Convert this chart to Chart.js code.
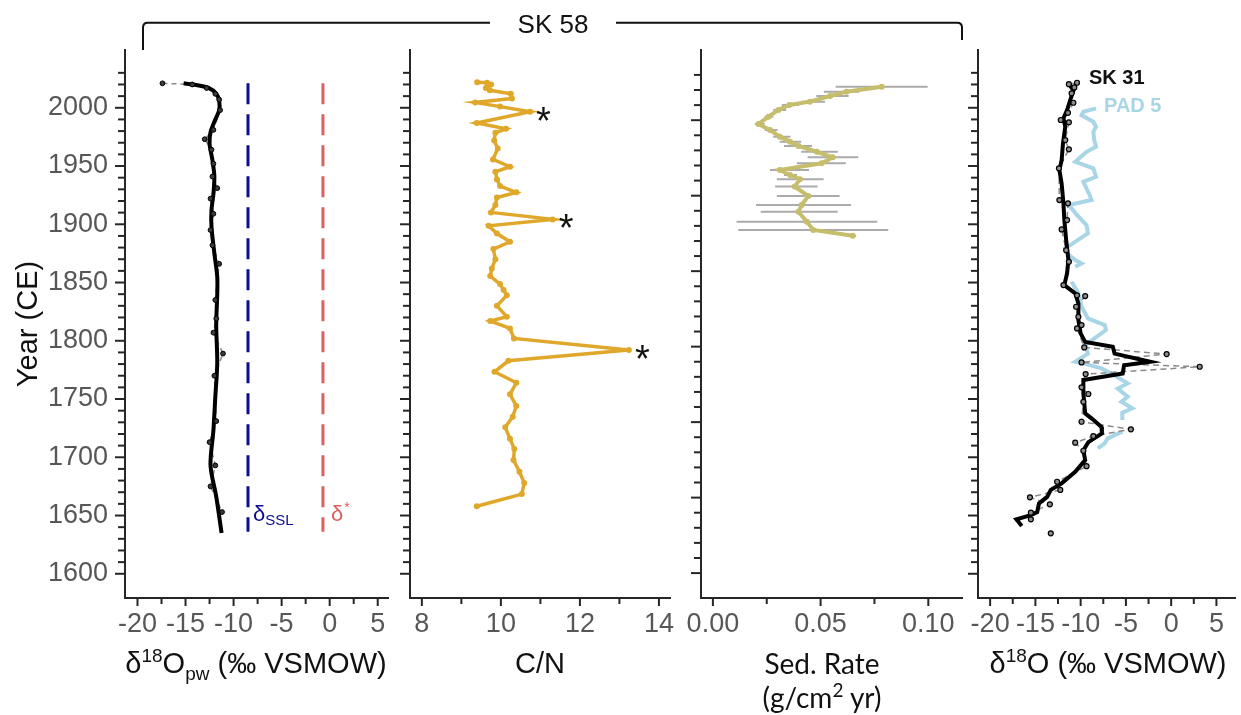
<!DOCTYPE html>
<html>
<head>
<meta charset="utf-8">
<script src="https://cdn.jsdelivr.net/npm/chart.js@4.4.1/dist/chart.umd.min.js"></script>
<style>
  html, body { margin: 0; padding: 0; background: #fff; }
  #fig { position: relative; width: 1241px; height: 715px; overflow: hidden; background: #fff;
         font-family: 'Liberation Sans', Arial, sans-serif; }
  #fig canvas { position: absolute; left: 0; top: 0; }
  .xt { position: absolute; height: 34px; line-height: 34px; font-size: 29px; color: #111;
        text-align: center; white-space: nowrap; }
  .xt .sup { font-size: 19px; position: relative; top: -11px; }
  .xt .sub { font-size: 19px; position: relative; top: 7px; }
  .hum { font-family: Lato, 'Open Sans', sans-serif; font-size: 28px; }
</style>
</head>
<body>
<div id="fig">
  <canvas id="pwPanel" width="1241" height="715"></canvas>
  <canvas id="cnPanel" width="1241" height="715"></canvas>
  <canvas id="srPanel" width="1241" height="715"></canvas>
  <canvas id="o18Panel" width="1241" height="715"></canvas>

  <!-- core bracket grouping the three SK 58 panels -->
  <svg width="1241" height="60" style="position:absolute;left:0;top:0">
    <path d="M143 50 V27.5 Q143 22.7 147.8 22.7 H490 M616 22.7 H957.2 Q962 22.7 962 27.5 V40"
          fill="none" stroke="#111" stroke-width="2"/>
    <text x="553" y="33" text-anchor="middle" font-family="Liberation Sans, Arial, sans-serif"
          font-size="26" fill="#111">SK 58</text>
  </svg>

  <div class="xt" style="left:106px;top:646px;width:300px">δ<span class="sup">18</span>O<span class="sub">pw</span> (‰ VSMOW)</div>
  <div class="xt" style="left:440px;top:646px;width:200px">C/N</div>
  <div class="xt hum" style="left:702px;top:646px;width:240px">Sed. Rate</div>
  <div class="xt hum" style="left:702px;top:680px;width:240px">(g/cm<span class="sup">2</span> yr)</div>
  <div class="xt" style="left:958px;top:646px;width:300px">δ<span class="sup">18</span>O (‰ VSMOW)</div>
</div>

<script>
// ---------------- data ----------------
// year axis
const yearLabels = [1600, 1650, 1700, 1750, 1800, 1850, 1900, 1950, 2000];
const yearTickRange = [1600, 2030];
const sedYearTickRange = [1700, 2030];

// x tick labels
const pwTickLabels = [-20, -15, -10, -5, 0, 5];
const cnTickLabels = [8, 10, 12, 14];
const srTickLabels = [0, 0.05, 0.10];
const o18TickLabels = [-20, -15, -10, -5, 0, 5];

// SK 58 pore-water d18O: measured samples
const pwYears = [2021, 2020, 2017, 2012, 2007, 1998, 1981, 1973, 1964, 1952, 1941, 1931, 1922, 1909,
                 1895, 1882, 1866, 1835, 1819, 1807, 1789, 1770, 1731, 1713, 1693, 1675, 1653];
const pwRaw = [-17.4, -14.3, -12.8, -11.9, -11.5, -11.4, -12.1, -13.0, -12.3, -12.1, -12.2, -11.7, -12.4, -12.1,
               -12.4, -12.2, -11.5, -11.9, -11.8, -12.1, -11.1, -12.0, -11.8, -12.5, -11.9, -12.4, -11.2];
// SK 58 pore-water d18O: smoothed record
const pwSmoothYears = [2021, 2020, 2017, 2012, 2006, 1998, 1988, 1979, 1969, 1955, 1941, 1926, 1912,
                       1898, 1875, 1855, 1840, 1818, 1809, 1781, 1752, 1723, 1693, 1666, 1635];
const pwSmooth = [-15.2, -14.2, -12.6, -11.8, -11.5, -11.5, -12.0, -12.4, -12.5, -12.2, -12.0, -12.1, -12.3,
                  -12.3, -12.0, -11.7, -11.7, -11.8, -11.8, -11.7, -11.9, -12.1, -12.4, -11.8, -11.25];
// reference values
const deltaSSL = -8.5;
const deltaStar = -0.7;
const refYears = [2021, 1636];
const refLabelYear = 1645;

// SK 58 C/N
const cnYears = [2022, 2021.5, 2020, 2017, 2015, 2012, 2008, 2004.6, 2001, 1996.6, 1987, 1982, 1978.5, 1972,
                 1965, 1955.7, 1949.4, 1945, 1938.5, 1932.8, 1927.4, 1923, 1916.5, 1910.2, 1904.2, 1898.7,
                 1892, 1885, 1878.7, 1870, 1862, 1855.5, 1848.7, 1843.5, 1839, 1830, 1820.6, 1817, 1810.6,
                 1802, 1792, 1782.8, 1773.4, 1764, 1754, 1744, 1734.8, 1725.7, 1716, 1707, 1697.6, 1687.6,
                 1678, 1668.4, 1658];
const cnValues = [9.40, 9.65, 9.75, 9.62, 9.72, 10.25, 10.28, 9.35, 9.98, 10.74, 9.39, 10.13, 9.86, 9.83,
                  9.92, 9.80, 10.23, 9.86, 9.90, 9.98, 10.39, 9.90, 9.86, 9.75, 11.31, 9.69,
                  9.90, 10.23, 9.81, 9.86, 9.77, 9.73, 9.98, 10.07, 10.15, 9.90, 10.15, 9.73, 10.23,
                  10.33, 13.24, 10.19, 9.84, 10.39, 10.23, 10.39, 10.30, 10.11, 10.23, 10.34, 10.32, 10.47,
                  10.59, 10.53, 9.39];
const cnFlagYears = [1996.6, 1904.2, 1792];

// SK 58 sedimentation rate (g/cm2 yr) with uncertainty range
const srYears = [2022.2, 2018.9, 2016.0, 2012.3, 2010.1, 2006.8, 2002.3, 1997.5, 1993.5, 1989.1, 1985.8, 1982.9,
                 1979.1, 1975.4, 1971.5, 1967.0, 1963.7, 1960.9, 1956.0, 1949.8, 1943.8, 1939.4, 1932.8,
                 1927.3, 1923.5];
const srValues = [0.0784, 0.0620, 0.0544, 0.0450, 0.0355, 0.0304, 0.0258, 0.0211, 0.0265, 0.0311, 0.0358, 0.0397,
                  0.0482, 0.0556, 0.0505, 0.0311, 0.0358, 0.0404, 0.0380, 0.0443, 0.0412, 0.0397, 0.0436,
                  0.0466, 0.0649];
const srLow = [0.0570, 0.0515, 0.0480, 0.0410, 0.0320, 0.0280, 0.0240, 0.0195, 0.0240, 0.0280, 0.0310, 0.0330,
               0.0410, 0.0440, 0.0390, 0.0265, 0.0330, 0.0297, 0.0289, 0.0297, 0.0200, 0.0222, 0.0110,
               0.0118, 0.0635];
const srHigh = [0.0997, 0.0680, 0.0630, 0.0520, 0.0400, 0.0340, 0.0280, 0.0240, 0.0300, 0.0360, 0.0410, 0.0460,
                0.0580, 0.0675, 0.0617, 0.0446, 0.0390, 0.0514, 0.0486, 0.0588, 0.0641, 0.0579, 0.0763,
                0.0814, 0.0665];

// SK 31 d18O: measured samples (null = break in the record)
const sk31Years = [2021.5, 2020.3, 2017.5, 2012.4, 2004.3, 1995.7, 1989.5, 1987.5, 1972.3, 1964.3, 1948, 1920.8,
                   1918, 1903.6, 1895.6, 1877.8, 1867.8, 1847.8, 1839, 1838.4, 1829.2, 1820.6, 1813.5, 1810.6,
                   1794.3, 1788.6, 1781.4, 1777.7, 1771.4, 1760, 1754.3, 1747.6, 1730.5, 1724, 1718.2, 1712.5,
                   1705.6, 1692.4, 1679, 1672, 1665.6, 1659.6, 1652.4, 1646.7, null, 1634.7];
const sk31Raw = [-10.4, -11.3, -10.7, -11.0, -10.8, -11.4, -12.2, -11.3, -11.7, -11.3, -12.4, -12.35,
                 -11.4, -11.5, -12.1, -11.6, -11.3, -11.9, -10.4, -9.5, -10.5, -10.25, -9.9, -10.4,
                 -9.6, -0.5, -9.9, 3.15, -9.45, -9.9, -9.15, -9.7, -9.9, -4.45, -8.6, -10.6,
                 -9.7, -9.35, -12.6, -12.25, -15.6, -13.4, -15.5, -15.5, null, -13.3];
// SK 31 d18O: smoothed record
const sk31SmoothYears = [2020.3, 2015, 2006.6, 1998, 1991, 1983.7, 1969.4, 1955, 1946.5, 1935, 1918, 1903.6,
                         1886.4, 1869.3, 1857.9, 1847.8, 1840.7, 1832, 1817.8, 1806.4, 1799, 1794.8, 1789,
                         1782, 1779, 1772, 1766.3, 1755, 1737.7, 1733.4, 1726, 1720.5, 1713, 1706, 1697.6,
                         1687.6, 1677.6, 1672, 1666, 1660.4, 1653, 1650.4, 1646.7, 1641];
const sk31Smooth = [-11.3, -10.8, -11.15, -11.5, -11.9, -11.7, -11.95, -12.1, -12.35, -12.1, -11.9, -11.8,
                    -11.6, -11.35, -11.5, -11.8, -10.6, -10.25, -10.25, -10.0, -9.5, -6.45, -6.25,
                    -2.3, -5.2, -5.35, -9.7, -9.7, -9.5, -8.8, -7.7, -7.65, -9.15, -9.7, -9.5,
                    -10.6, -12.1, -13.3, -13.7, -14.6, -14.8, -15.5, -17.1, -16.5];

// PAD 5 d18O (null = break in the record)
const pad5Years = [1999.5, 1996.6, 1993.7, 1988, 1983.7, 1979.4, 1972.3, 1966.5, 1962.2, 1953.6, 1948, 1940.8,
                   1936.5, 1925, 1920.8, 1916.5, 1907.9, 1899.3, 1892.2, 1879.3, 1873.6, 1869.3, 1866.4, 1863.5,
                   null, 1850.6, 1840.7, 1829.2, 1819.2, 1813.5, 1809.2, 1796.3, 1789, 1782, 1780.6, 1776.3,
                   1770.6, 1763.4, 1759, 1752, 1747.6, 1742, 1738.2, 1732, null, 1722, 1716.2, 1712, 1707.6];
const pad5Values = [-8.3, -9.7, -9.9, -8.6, -8.3, -8.6, -8.5, -8.3, -9.35, -10.6, -8.6, -8.3,
                    -9.7, -9.0, -8.8, -11.3, -10.4, -9.35, -9.2, -11.7, -11.3, -10.6, -9.9, -10.6,
                    null, -11.0, -10.25, -9.9, -9.2, -7.35, -7.2, -9.5, -9.2, -10.6, -9.7, -7.7,
                    -6.3, -4.8, -5.9, -4.8, -5.5, -4.3, -5.4, -5.4, null, -5.4, -7.0, -7.35, -8.1];

// ---------------- styling ----------------
const FONT = "'Liberation Sans', Arial, sans-serif";
const AXIS_COLOR = '#262626';
const TICK_TEXT = '#575757';
const CN_COLOR = '#E0A82B';
const SR_COLOR = '#C6BE6C';
const ERR_COLOR = '#ABABAB';
const SSL_COLOR = '#0D0D8F';
const STAR_COLOR = '#D8625F';
const PAD_COLOR = '#A8D6E6';
const RAW_LINE = '#8A8A8A';
const TICK_FONT_SIZE = 27;

const CANVAS_W = 1241, CANVAS_H = 715;
const PLOT_TOP = 50, PLOT_BOTTOM = 598, X_AXIS_H = 60;

Chart.defaults.font.family = FONT;

// ---------------- helpers ----------------
const points = (values, years) => values.map((v, i) =>
  (v === null || years[i] === null) ? { x: null, y: null } : { x: v, y: years[i] });

const onList = (list, v) => list.some(l => Math.abs(l - v) < 1e-9);

function valueScale(o) {
  return {
    type: 'linear', position: 'bottom', min: o.min, max: o.max,
    afterBuildTicks(s) {
      const t = [];
      for (let i = 0; ; i++) {
        const v = +(o.from + i * o.step).toFixed(6);
        if (v > o.to + 1e-9) break;
        t.push({ value: v });
      }
      s.ticks = t;
    },
    afterFit(s) {
      s.height = X_AXIS_H;
      s.paddingLeft = s.paddingRight = s.paddingTop = s.paddingBottom = 0;
    },
    grid: { display: false, drawTicks: true, tickLength: 8 },
    border: { display: true, color: AXIS_COLOR, width: 2 },
    ticks: {
      autoSkip: false, maxRotation: 0, padding: 2, color: TICK_TEXT, font: { size: TICK_FONT_SIZE },
      callback: v => onList(o.labels, v) ? o.fmt(v) : ''
    }
  };
}

function yearScale(o) {
  return {
    type: 'linear', position: 'left', min: o.min, max: o.max,
    afterBuildTicks(s) {
      const t = [];
      for (let v = o.range[0]; v <= o.range[1]; v += 10) t.push({ value: v });
      s.ticks = t;
    },
    afterFit(s) {
      s.width = o.width;
      s.paddingLeft = s.paddingRight = s.paddingTop = s.paddingBottom = 0;
    },
    grid: { display: false, drawTicks: true, tickLength: 10 },
    border: { display: true, color: AXIS_COLOR, width: 2 },
    ticks: {
      display: !!o.labels, autoSkip: false, padding: 7, color: TICK_TEXT, font: { size: TICK_FONT_SIZE },
      callback: v => (o.labels && o.labels.includes(v)) ? String(v) : ''
    },
    title: o.title
      ? { display: true, text: o.title, color: '#111', font: { size: 29 }, padding: { top: 12, bottom: 0 } }
      : { display: false }
  };
}

// tick marks: longer marks at labelled positions
function tickMarks(isMajorX, isMajorY) {
  return {
    id: 'tickMarks',
    afterDraw(chart) {
      const { ctx, scales: { x, y } } = chart;
      ctx.save();
      ctx.strokeStyle = AXIS_COLOR;
      ctx.lineWidth = 2;
      x.ticks.forEach(t => {
        const px = x.getPixelForValue(t.value);
        const len = isMajorX(t.value) ? 8 : 6;
        ctx.beginPath(); ctx.moveTo(px, x.top); ctx.lineTo(px, x.top + len); ctx.stroke();
      });
      y.ticks.forEach(t => {
        const py = y.getPixelForValue(t.value);
        const len = isMajorY(t.value) ? 10 : 7;
        ctx.beginPath(); ctx.moveTo(y.right, py); ctx.lineTo(y.right - len, py); ctx.stroke();
      });
      ctx.restore();
    }
  };
}

function panel(id, area, xOpt, yOpt, datasets, extraPlugins) {
  return new Chart(document.getElementById(id), {
    type: 'line',
    data: { datasets },
    options: {
      responsive: false, animation: false, devicePixelRatio: 1, events: [],
      indexAxis: 'y',
      layout: {
        padding: {
          left: area.left - yOpt.width, right: CANVAS_W - area.right,
          top: PLOT_TOP, bottom: CANVAS_H - PLOT_BOTTOM - X_AXIS_H
        }
      },
      plugins: { legend: { display: false }, tooltip: { enabled: false }, title: { display: false } },
      scales: { x: valueScale(xOpt), y: yearScale(yOpt) }
    },
    plugins: [tickMarks(xOpt.major, yOpt.major)].concat(extraPlugins || [])
  });
}

const fifty = v => v % 50 === 0;
const YEAR_MIN = 1579.2, YEAR_MAX = 2049.6;

// ---------------- panel 1: pore-water d18O ----------------
panel('pwPanel', { left: 125, right: 388 },
  { min: -21.3, max: 6.07, from: -20, to: 5, step: 2.5, labels: pwTickLabels, fmt: String,
    major: v => onList(pwTickLabels, v) },
  { min: YEAR_MIN, max: YEAR_MAX, range: yearTickRange, width: 125, labels: yearLabels,
    title: 'Year (CE)', major: fifty },
  [
    { data: points([deltaSSL, deltaSSL], refYears), borderColor: SSL_COLOR, borderWidth: 3,
      borderDash: [21, 10], pointRadius: 0, order: 5 },
    { data: points([deltaStar, deltaStar], refYears), borderColor: STAR_COLOR, borderWidth: 3,
      borderDash: [21, 10], pointRadius: 0, order: 5 },
    { data: points(pwRaw, pwYears), borderColor: RAW_LINE, borderWidth: 1.5, borderDash: [5, 4],
      pointRadius: 0, order: 3 },
    { data: points(pwSmooth, pwSmoothYears), borderColor: '#000', borderWidth: 4, tension: 0.3,
      pointRadius: 0, order: 2 },
    { data: points(pwRaw, pwYears), showLine: false, pointRadius: 2.4, pointBackgroundColor: '#3a3a3a',
      pointBorderColor: '#000', pointBorderWidth: 1, order: 1 }
  ],
  [{
    id: 'refLabels',
    afterDatasetsDraw(chart) {
      const { ctx, scales: { x, y } } = chart;
      const yb = y.getPixelForValue(refLabelYear);
      ctx.save();
      ctx.textAlign = 'left';
      ctx.textBaseline = 'alphabetic';
      let px = x.getPixelForValue(deltaSSL) + 5;
      ctx.fillStyle = SSL_COLOR;
      ctx.font = `22px ${FONT}`;
      ctx.fillText('δ', px, yb);
      let w = ctx.measureText('δ').width;
      ctx.font = `15px ${FONT}`;
      ctx.fillText('SSL', px + w, yb + 4);
      px = x.getPixelForValue(deltaStar) + 8;
      ctx.fillStyle = STAR_COLOR;
      ctx.font = `22px ${FONT}`;
      ctx.fillText('δ', px, yb);
      w = ctx.measureText('δ').width;
      ctx.font = `14px ${FONT}`;
      ctx.fillText('*', px + w + 1, yb - 9);
      ctx.restore();
    }
  }]
);

// ---------------- panel 2: C/N ----------------
panel('cnPanel', { left: 410, right: 670 },
  { min: 7.7, max: 14.28, from: 8, to: 14, step: 1, labels: cnTickLabels, fmt: String,
    major: v => onList(cnTickLabels, v) },
  { min: YEAR_MIN, max: YEAR_MAX, range: yearTickRange, width: 20, major: fifty },
  [
    { data: points(cnValues, cnYears), borderColor: CN_COLOR, borderWidth: 3.5, pointRadius: 3,
      pointBackgroundColor: CN_COLOR, pointBorderColor: CN_COLOR, pointBorderWidth: 0 }
  ],
  [{
    id: 'flags',
    afterDatasetsDraw(chart) {
      const ctx = chart.ctx;
      const meta = chart.getDatasetMeta(0);
      ctx.save();
      ctx.font = `38px ${FONT}`;
      ctx.fillStyle = '#111';
      ctx.textAlign = 'left';
      ctx.textBaseline = 'alphabetic';
      cnFlagYears.forEach(yr => {
        const p = meta.data[cnYears.indexOf(yr)];
        ctx.fillText('*', p.x + 6, p.y + 22);
      });
      ctx.restore();
    }
  }]
);

// ---------------- panel 3: sedimentation rate ----------------
const srBars = [];
srYears.forEach((yr, i) => {
  srBars.push({ x: srLow[i], y: yr }, { x: srHigh[i], y: yr }, { x: null, y: null });
});
panel('srPanel', { left: 701, right: 962 },
  { min: -0.00552, max: 0.11564, from: 0, to: 0.1, step: 0.025, labels: srTickLabels,
    fmt: v => v.toFixed(2), major: v => onList(srTickLabels, v) },
  { min: 1683.5, max: 2046.5, range: sedYearTickRange, width: 20, major: fifty },
  [
    { data: srBars, borderColor: ERR_COLOR, borderWidth: 2, pointRadius: 0, spanGaps: false, order: 2 },
    { data: points(srValues, srYears), borderColor: SR_COLOR, borderWidth: 4, pointRadius: 3,
      pointBackgroundColor: SR_COLOR, pointBorderColor: SR_COLOR, pointBorderWidth: 0, order: 1 }
  ]
);

// ---------------- panel 4: SK 31 and PAD 5 d18O ----------------
panel('o18Panel', { left: 978, right: 1240 },
  { min: -21.34, max: 7.14, from: -20, to: 5, step: 2.5, labels: o18TickLabels, fmt: String,
    major: v => onList(o18TickLabels, v) },
  { min: YEAR_MIN, max: YEAR_MAX, range: yearTickRange, width: 20, major: fifty },
  [
    { data: points(pad5Values, pad5Years), borderColor: PAD_COLOR, borderWidth: 4, pointRadius: 0,
      spanGaps: false, order: 4 },
    { data: points(sk31Raw, sk31Years), borderColor: RAW_LINE, borderWidth: 1.5, borderDash: [6, 4],
      pointRadius: 0, spanGaps: false, order: 3 },
    { data: points(sk31Smooth, sk31SmoothYears), borderColor: '#000', borderWidth: 4, pointRadius: 0, order: 2 },
    { data: points(sk31Raw, sk31Years), showLine: false, pointRadius: 2.5, pointBackgroundColor: '#8c8c8c',
      pointBorderColor: '#000', pointBorderWidth: 1.2, order: 1 }
  ],
  [{
    id: 'seriesNames',
    afterDatasetsDraw(chart) {
      const ctx = chart.ctx;
      const sk = chart.getDatasetMeta(3).data[0];
      const pd = chart.getDatasetMeta(0).data[0];
      ctx.save();
      ctx.font = `bold 20px ${FONT}`;
      ctx.textAlign = 'left';
      ctx.textBaseline = 'middle';
      ctx.fillStyle = '#111';
      ctx.fillText('SK 31', sk.x + 12, sk.y - 4);
      ctx.fillStyle = PAD_COLOR;
      ctx.fillText('PAD 5', pd.x + 8, pd.y - 2);
      ctx.restore();
    }
  }]
);
</script>
</body>
</html>
